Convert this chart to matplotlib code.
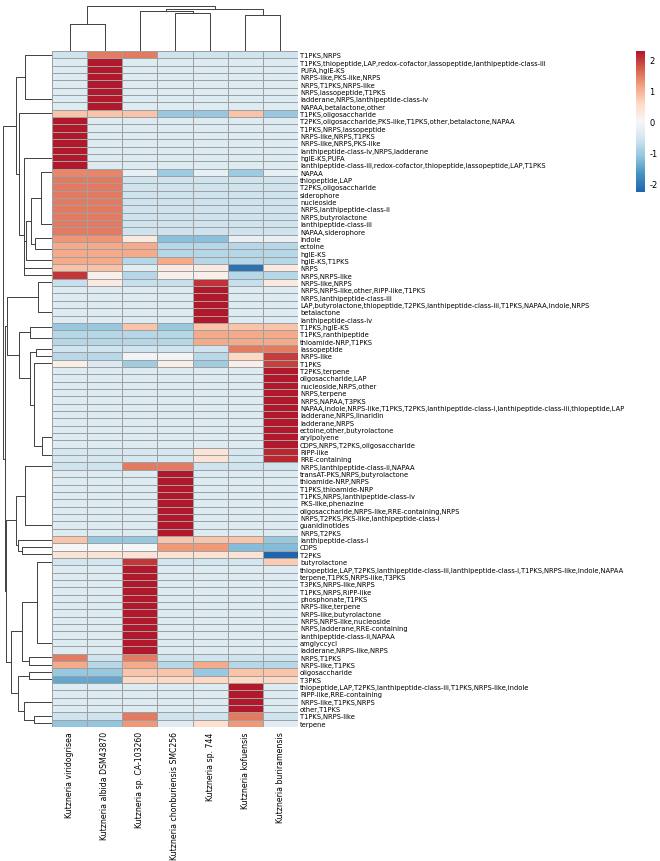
import numpy as np
import pandas as pd
import matplotlib
matplotlib.use('Agg')
import matplotlib.pyplot as plt
from matplotlib.colors import ListedColormap

plt.rcParams['axes.unicode_minus'] = False

# strains (columns) in the order of the clustered figure
strains = [
    "Kutzneria viridogrisea",
    "Kutzneria albida DSM43870",
    "Kutzneria sp. CA-103260",
    "Kutzneria chonburiensis SMC256",
    "Kutzneria sp. 744",
    "Kutzneria kofuensis",
    "Kutzneria buriramensis",
]

# BGC type combinations (rows), top to bottom
clusters = [
    "T1PKS,NRPS",
    "T1PKS,thiopeptide,LAP,redox-cofactor,lassopeptide,lanthipeptide-class-iii",
    "PUFA,hglE-KS",
    "NRPS-like,PKS-like,NRPS",
    "NRPS,T1PKS,NRPS-like",
    "NRPS,lassopeptide,T1PKS",
    "ladderane,NRPS,lanthipeptide-class-iv",
    "NAPAA,betalactone,other",
    "T1PKS,oligosaccharide",
    "T2PKS,oligosaccharide,PKS-like,T1PKS,other,betalactone,NAPAA",
    "T1PKS,NRPS,lassopeptide",
    "NRPS-like,NRPS,T1PKS",
    "NRPS-like,NRPS,PKS-like",
    "lanthipeptide-class-iv,NRPS,ladderane",
    "hglE-KS,PUFA",
    "lanthipeptide-class-iii,redox-cofactor,thiopeptide,lassopeptide,LAP,T1PKS",
    "NAPAA",
    "thiopeptide,LAP",
    "T2PKS,oligosaccharide",
    "siderophore",
    "nucleoside",
    "NRPS,lanthipeptide-class-ii",
    "NRPS,butyrolactone",
    "lanthipeptide-class-iii",
    "NAPAA,siderophore",
    "indole",
    "ectoine",
    "hglE-KS",
    "hglE-KS,T1PKS",
    "NRPS",
    "NRPS,NRPS-like",
    "NRPS-like,NRPS",
    "NRPS,NRPS-like,other,RiPP-like,T1PKS",
    "NRPS,lanthipeptide-class-iii",
    "LAP,butyrolactone,thiopeptide,T2PKS,lanthipeptide-class-iii,T1PKS,NAPAA,indole,NRPS",
    "betalactone",
    "lanthipeptide-class-iv",
    "T1PKS,hglE-KS",
    "T1PKS,ranthipeptide",
    "thioamide-NRP,T1PKS",
    "lassopeptide",
    "NRPS-like",
    "T1PKS",
    "T2PKS,terpene",
    "oligosaccharide,LAP",
    "nucleoside,NRPS,other",
    "NRPS,terpene",
    "NRPS,NAPAA,T3PKS",
    "NAPAA,indole,NRPS-like,T1PKS,T2PKS,lanthipeptide-class-i,lanthipeptide-class-iii,thiopeptide,LAP",
    "ladderane,NRPS,linaridin",
    "ladderane,NRPS",
    "ectoine,other,butyrolactone",
    "arylpolyene",
    "CDPS,NRPS,T2PKS,oligosaccharide",
    "RiPP-like",
    "RRE-containing",
    "NRPS,lanthipeptide-class-ii,NAPAA",
    "transAT-PKS,NRPS,butyrolactone",
    "thioamide-NRP,NRPS",
    "T1PKS,thioamide-NRP",
    "T1PKS,NRPS,lanthipeptide-class-iv",
    "PKS-like,phenazine",
    "oligosaccharide,NRPS-like,RRE-containing,NRPS",
    "NRPS,T2PKS,PKS-like,lanthipeptide-class-i",
    "guanidinotides",
    "NRPS,T2PKS",
    "lanthipeptide-class-i",
    "CDPS",
    "T2PKS",
    "butyrolactone",
    "thiopeptide,LAP,T2PKS,lanthipeptide-class-iii,lanthipeptide-class-i,T1PKS,NRPS-like,indole,NAPAA",
    "terpene,T1PKS,NRPS-like,T3PKS",
    "T3PKS,NRPS-like,NRPS",
    "T1PKS,NRPS,RiPP-like",
    "phosphonate,T1PKS",
    "NRPS-like,terpene",
    "NRPS-like,butyrolactone",
    "NRPS,NRPS-like,nucleoside",
    "NRPS,ladderane,RRE-containing",
    "lanthipeptide-class-ii,NAPAA",
    "amglyccycl",
    "ladderane,NRPS-like,NRPS",
    "NRPS,T1PKS",
    "NRPS-like,T1PKS",
    "oligosaccharide",
    "T3PKS",
    "thiopeptide,LAP,T2PKS,lanthipeptide-class-iii,T1PKS,NRPS-like,indole",
    "RiPP-like,RRE-containing",
    "NRPS-like,T1PKS,NRPS",
    "other,T1PKS",
    "T1PKS,NRPS-like",
    "terpene",
]

# number of BGCs of each type per strain
counts = [
    [0, 1, 1, 0, 0, 0, 0],
    [0, 1, 0, 0, 0, 0, 0],
    [0, 1, 0, 0, 0, 0, 0],
    [0, 1, 0, 0, 0, 0, 0],
    [0, 1, 0, 0, 0, 0, 0],
    [0, 1, 0, 0, 0, 0, 0],
    [0, 1, 0, 0, 0, 0, 0],
    [0, 1, 0, 0, 0, 0, 0],
    [1, 1, 1, 0, 0, 1, 0],
    [1, 0, 0, 0, 0, 0, 0],
    [1, 0, 0, 0, 0, 0, 0],
    [1, 0, 0, 0, 0, 0, 0],
    [1, 0, 0, 0, 0, 0, 0],
    [1, 0, 0, 0, 0, 0, 0],
    [1, 0, 0, 0, 0, 0, 0],
    [1, 0, 0, 0, 0, 0, 0],
    [3, 3, 1, 0, 1, 0, 1],
    [1, 1, 0, 0, 0, 0, 0],
    [1, 1, 0, 0, 0, 0, 0],
    [1, 1, 0, 0, 0, 0, 0],
    [1, 1, 0, 0, 0, 0, 0],
    [1, 1, 0, 0, 0, 0, 0],
    [1, 1, 0, 0, 0, 0, 0],
    [1, 1, 0, 0, 0, 0, 0],
    [1, 1, 0, 0, 0, 0, 0],
    [5, 5, 3, 0, 0, 2, 2],
    [1, 1, 1, 0, 0, 0, 0],
    [1, 1, 1, 0, 0, 0, 0],
    [1, 1, 0, 1, 0, 0, 0],
    [6, 6, 4, 5, 5, 1, 5],
    [3, 1, 0, 1, 1, 0, 0],
    [0, 1, 0, 0, 3, 0, 1],
    [0, 0, 0, 0, 1, 0, 0],
    [0, 0, 0, 0, 1, 0, 0],
    [0, 0, 0, 0, 1, 0, 0],
    [0, 0, 0, 0, 1, 0, 0],
    [0, 0, 0, 0, 1, 0, 0],
    [0, 0, 1, 0, 1, 1, 1],
    [0, 0, 0, 0, 1, 1, 1],
    [0, 0, 0, 0, 1, 1, 1],
    [0, 0, 0, 0, 0, 1, 1],
    [2, 2, 3, 3, 2, 4, 6],
    [3, 2, 1, 3, 1, 3, 6],
    [0, 0, 0, 0, 0, 0, 1],
    [0, 0, 0, 0, 0, 0, 1],
    [0, 0, 0, 0, 0, 0, 1],
    [0, 0, 0, 0, 0, 0, 1],
    [0, 0, 0, 0, 0, 0, 1],
    [0, 0, 0, 0, 0, 0, 1],
    [0, 0, 0, 0, 0, 0, 1],
    [0, 0, 0, 0, 0, 0, 1],
    [0, 0, 0, 0, 0, 0, 1],
    [0, 0, 0, 0, 0, 0, 1],
    [0, 0, 0, 0, 0, 0, 1],
    [0, 0, 0, 0, 1, 0, 3],
    [0, 0, 0, 0, 1, 0, 3],
    [0, 0, 1, 1, 0, 0, 0],
    [0, 0, 0, 1, 0, 0, 0],
    [0, 0, 0, 1, 0, 0, 0],
    [0, 0, 0, 1, 0, 0, 0],
    [0, 0, 0, 1, 0, 0, 0],
    [0, 0, 0, 1, 0, 0, 0],
    [0, 0, 0, 1, 0, 0, 0],
    [0, 0, 0, 1, 0, 0, 0],
    [0, 0, 0, 1, 0, 0, 0],
    [0, 0, 0, 1, 0, 0, 0],
    [1, 0, 0, 1, 1, 1, 0],
    [1, 1, 1, 2, 2, 0, 0],
    [1, 1, 1, 1, 1, 1, 0],
    [0, 0, 2, 0, 0, 0, 1],
    [0, 0, 1, 0, 0, 0, 0],
    [0, 0, 1, 0, 0, 0, 0],
    [0, 0, 1, 0, 0, 0, 0],
    [0, 0, 1, 0, 0, 0, 0],
    [0, 0, 1, 0, 0, 0, 0],
    [0, 0, 1, 0, 0, 0, 0],
    [0, 0, 1, 0, 0, 0, 0],
    [0, 0, 1, 0, 0, 0, 0],
    [0, 0, 1, 0, 0, 0, 0],
    [0, 0, 1, 0, 0, 0, 0],
    [0, 0, 1, 0, 0, 0, 0],
    [0, 0, 1, 0, 0, 0, 0],
    [1, 0, 1, 0, 0, 0, 0],
    [1, 0, 1, 0, 1, 0, 0],
    [0, 0, 1, 1, 0, 1, 1],
    [0, 0, 1, 1, 1, 1, 1],
    [0, 0, 0, 0, 0, 1, 0],
    [0, 0, 0, 0, 0, 1, 0],
    [0, 0, 0, 0, 0, 1, 0],
    [0, 0, 0, 0, 0, 1, 0],
    [0, 0, 1, 0, 0, 1, 0],
    [1, 1, 4, 2, 3, 4, 2],
]

# strain tree (scipy-style: child a, child b, height);
# ids 0-6 are the strains, 7+ are the merged nodes in order
strain_tree = [
    (0, 1, 6.0),
    (5, 6, 8.0),
    (3, 4, 8.5),
    (2, 9, 8.9),
    (10, 8, 9.4),
    (7, 11, 10.0),
]

df = pd.DataFrame(counts, index=clusters, columns=strains)
# z-score each row (same as clustermap z_score=0)
z = df.sub(df.mean(axis=1), axis=0).div(df.std(axis=1), axis=0)


def ordered_linkage(X):
    # average linkage / euclidean, but only neighbours may merge,
    # so the tree keeps the leaf order of the figure
    d = np.sqrt(((X[:, None, :] - X[None, :, :]) ** 2).sum(-1))
    groups = [[i] for i in range(len(X))]
    pos = [i + 0.5 for i in range(len(X))]
    hgt = [0.0] * len(X)
    links = []
    while len(groups) > 1:
        dist = [d[np.ix_(groups[k], groups[k + 1])].mean() for k in range(len(groups) - 1)]
        k = int(np.argmin(dist))
        h = max(dist[k], hgt[k], hgt[k + 1])
        links.append((pos[k], pos[k + 1], hgt[k], hgt[k + 1], h))
        groups[k] = groups[k] + groups.pop(k + 1)
        pos[k] = (pos[k] + pos.pop(k + 1)) / 2
        hgt.pop(k + 1)
        hgt[k] = h
    return links


def tree_links(tree, n):
    pos = [i + 0.5 for i in range(n)]
    hgt = [0.0] * n
    links = []
    for a, b, h in tree:
        links.append((pos[a], pos[b], hgt[a], hgt[b], h))
        pos.append((pos[a] + pos[b]) / 2)
        hgt.append(h)
    return links


row_links = ordered_linkage(z.values)
col_links = tree_links(strain_tree, len(strains))

W, H = 660, 862
fig = plt.figure(figsize=(W / 100, H / 100), dpi=100)
ax_heat = fig.add_axes([52 / W, 134 / H, 246 / W, 676 / H])
ax_row = fig.add_axes([1 / W, 134 / H, 51 / W, 676 / H])
ax_col = fig.add_axes([52 / W, 810 / H, 246 / W, 47 / H])
ax_cb = fig.add_axes([636 / W, 669 / H, 9 / W, 141 / H])

cmap = ListedColormap(plt.cm.RdBu_r(np.linspace(0.1, 0.9, 256)))
vmax = np.abs(z.values).max()

mesh = ax_heat.pcolormesh(z.values, cmap=cmap, vmin=-vmax, vmax=vmax,
                          edgecolors='#a0a0a0', linewidth=0.4)
ax_heat.set_xlim(0, len(strains))
ax_heat.set_ylim(len(clusters), 0)
ax_heat.set_yticks(np.arange(len(clusters)) + 0.5)
ax_heat.set_yticklabels(clusters, fontsize=4.85)
ax_heat.yaxis.tick_right()
ax_heat.set_xticks(np.arange(len(strains)) + 0.5)
ax_heat.set_xticklabels(strains, rotation=90, fontsize=5.6)
ax_heat.tick_params(axis='y', length=0, pad=1.5)
ax_heat.tick_params(axis='x', length=0, pad=3)
for s in ax_heat.spines.values():
    s.set_visible(False)

# dendrograms
for pa, pb, ha, hb, h in row_links:
    ax_row.plot([ha, h, h, hb], [pa, pa, pb, pb], color='.25', lw=0.7)
ax_row.set_ylim(len(clusters), 0)
ax_row.set_xlim(max(l[4] for l in row_links) * 1.05, 0)
ax_row.axis('off')

for pa, pb, ha, hb, h in col_links:
    ax_col.plot([pa, pa, pb, pb], [ha, h, h, hb], color='.25', lw=0.7)
ax_col.set_xlim(0, len(strains))
ax_col.set_ylim(0, max(l[4] for l in col_links) * 1.05)
ax_col.axis('off')

cb = fig.colorbar(mesh, cax=ax_cb)
cb.outline.set_visible(False)
cb.set_ticks([-2, -1, 0, 1, 2])
ax_cb.tick_params(length=0, labelsize=6, pad=3)

fig.savefig('out.png', dpi=100)
